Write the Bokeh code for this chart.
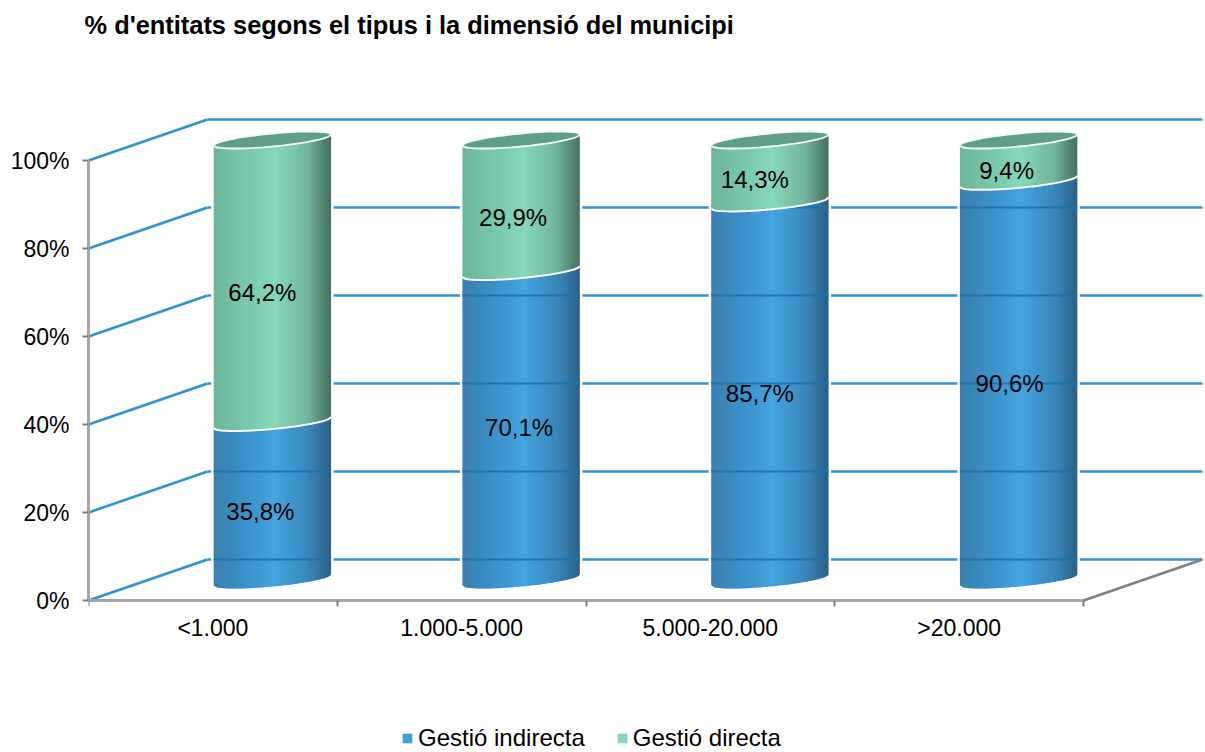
import math
from bokeh.plotting import figure
from bokeh.embed import file_html
from bokeh.resources import INLINE
from bokeh.models import Range1d, FixedTicker, Legend, LegendItem, Title, ColumnDataSource
from bokeh.core.properties import value

categories = ["<1.000", "1.000-5.000", "5.000-20.000", ">20.000"]
indirecta = [35.8, 70.1, 85.7, 90.6]
directa = [64.2, 29.9, 14.3, 9.4]
indirecta_labels = ["35,8%", "70,1%", "85,7%", "90,6%"]
directa_labels = ["64,2%", "29,9%", "14,3%", "9,4%"]
y_ticks = [0, 20, 40, 60, 80, 100]
TITLE = "% d'entitats segons el tipus i la dimensió del municipi"
FONT = "Liberation Sans"

# label nudges in px (style, relative to the segment's centre)
ind_dx, ind_dy = [-12, -2, -10, -9], [-10, -2, -2, -3]
dir_dx, dir_dy = [-10, -8, -15, -12], [-11, -12, -8, -10]

# scale: pixels per data unit, and the oblique "3D" depth in px
PXX, PXY = 248.75, 4.4
DEPTH_X, DEPTH_Y = 119, 41
WIDTH, HEIGHT = 1205, 752
LEFT, RIGHT, TOP = 88, 2, 50
ZERO_Y = 600
HALF_W, TILT, MINOR = 58.7, 5.5, 6.5
N = 59

BLUE = [(0, "#3B80AE"), (.25, "#3A90C6"), (.52, "#43A4DF"), (.8, "#3A87BA"), (.95, "#2F6B94"), (1, "#2C5F84")]
GREEN = [(0, "#6DB59B"), (.25, "#78C6AB"), (.52, "#86D8BB"), (.8, "#72B59E"), (.95, "#4F7F6D"), (1, "#466F60")]
CAP = "#5F9F8A"
GRID = "#2F93D3"
AXIS = "#A6A6A6"
TICK = "#808080"
NAN = float("nan")


def shade(stops, f):
    for (a, ca), (b, cb) in zip(stops, stops[1:]):
        if f <= b:
            k = (f - a) / (b - a)
            ch = [round(int(ca[i:i + 2], 16) * (1 - k) + int(cb[i:i + 2], 16) * k) for i in (1, 3, 5)]
            return "#%02X%02X%02X" % tuple(ch)
    return stops[-1][1]


dx = DEPTH_X / PXX
dy = DEPTH_Y / PXY
half = HALF_W / PXX
tilt = TILT / PXY
minor = MINOR / PXY


def edge(cx, v, u, sign=-1):
    """Point on the ellipse rim at the level v; u in [-1, 1]."""
    return cx + half * u, v + dy / 2 + tilt * u + sign * minor * math.sqrt(max(0, 1 - u * u))


p = figure(width=WIDTH, height=HEIGHT, output_backend="svg", toolbar_location=None,
           x_range=Range1d(0, (WIDTH - LEFT - RIGHT) / PXX),
           y_range=Range1d(-(HEIGHT - ZERO_Y) / PXY, (ZERO_Y - TOP) / PXY),
           min_border_left=LEFT, min_border_right=RIGHT, min_border_top=TOP, min_border_bottom=0)
p.outline_line_color = None
p.grid.visible = False
p.background_fill_color = "white"

p.title = Title(text=TITLE, text_font=FONT, text_font_size="25.4px", text_font_style="bold",
                text_color="#000000", align="left", vertical_align="top", offset=-4, standoff=20)

# axes
yax = p.yaxis[0]
yax.ticker = FixedTicker(ticks=y_ticks)
yax.bounds = (0, 100)
yax.major_label_overrides = {t: f"{t}%" for t in y_ticks}
yax.axis_line_color = AXIS
yax.axis_line_width = 3
yax.major_tick_line_color = TICK
yax.major_tick_line_width = 2
yax.major_tick_in = 0
yax.major_tick_out = 6
yax.minor_tick_out = 0
yax.minor_tick_in = 0
yax.major_label_text_font = FONT
yax.major_label_text_font_size = "23px"
yax.major_label_text_color = "#000000"
yax.major_label_standoff = 13

xax = p.xaxis[0]
n = len(categories)
xax.fixed_location = 0
xax.ticker = FixedTicker(ticks=[i + .5 for i in range(n)], minor_ticks=list(range(n + 1)))
xax.bounds = (0, n)
xax.major_label_overrides = {i + .5: c for i, c in enumerate(categories)}
xax.axis_line_color = AXIS
xax.axis_line_width = 3
xax.major_tick_in = 0
xax.major_tick_out = 0
xax.minor_tick_line_color = TICK
xax.minor_tick_line_width = 2
xax.minor_tick_in = 0
xax.minor_tick_out = 6
xax.major_label_text_font = FONT
xax.major_label_text_font_size = "23px"
xax.major_label_text_color = "#000000"
xax.major_label_standoff = 8

# walls
p.segment(x0=[0] * len(y_ticks), y0=y_ticks, x1=[dx] * len(y_ticks), y1=[t + dy for t in y_ticks],
          line_color=GRID, line_width=2.6)
p.segment(x0=[dx] * len(y_ticks), y0=[t + dy for t in y_ticks], x1=[n + dx] * len(y_ticks),
          y1=[t + dy for t in y_ticks], line_color=GRID, line_width=2.6)
p.segment(x0=[n], y0=[0], x1=[n + dx], y1=[dy], line_color=TICK, line_width=2.4)

centers = [i + .5 + dx / 2 for i in range(n)]
halo = 2.5 / PXX

# white gap round every cylinder
p.quad(left=[c - half - halo for c in centers], right=[c + half + halo for c in centers],
       bottom=[dy / 2 - 1 for _ in centers], top=[i + d + dy / 2 for i, d in zip(indirecta, directa)],
       fill_color="white", line_color=None)


def strips(cx, v0, v1, stops):
    xs, ys, cs = [], [], []
    for j in range(N):
        u0 = -1 + 2 * j / N
        u1 = min(1, -1 + 2 * (j + 1.6) / N)  # each strip runs under the next one
        x0, yb0 = edge(cx, v0, u0)
        x1, yb1 = edge(cx, v0, u1)
        _, yt0 = edge(cx, v1, u0)
        _, yt1 = edge(cx, v1, u1)
        xs.append([x0, x1, x1, x0])
        ys.append([yb0, yb1, yt1, yt0])
        cs.append(shade(stops, (j + .5) / N))
    return xs, ys, cs


def collect(bottoms, tops, stops):
    X, Y, C = [], [], []
    for cx, b, t in zip(centers, bottoms, tops):
        x, y, c = strips(cx, b, t, stops)
        X += x
        Y += y
        C += c
    return dict(xs=X, ys=Y, c=C)


ind_tops = indirecta
dir_tops = [i + d for i, d in zip(indirecta, directa)]

p.patches("xs", "ys", fill_color="c", line_color=None,
          source=ColumnDataSource(collect([0] * n, ind_tops, BLUE)))

# gridlines showing through the blue part (the green part, drawn next, hides them)
gx, gy = [], []
for cx, level in zip(centers, ind_tops):
    for t in y_ticks:
        if t + dy / 2 < level:
            gx.append([cx - half, cx + half])
            gy.append([t + dy, t + dy])
p.multi_line(xs=gx, ys=gy, line_color="#1A72AE", line_width=2.2, line_alpha=0.85)

p.patches("xs", "ys", fill_color="c", line_color=None,
          source=ColumnDataSource(collect(ind_tops, dir_tops, GREEN)))

# white rim between the segments, top caps
us = [-1 + 2 * j / 60 for j in range(61)]
p.multi_line(xs=[[edge(c, v, u)[0] for u in us] for c, v in zip(centers, ind_tops)],
             ys=[[edge(c, v, u)[1] for u in us] for c, v in zip(centers, ind_tops)],
             line_color="white", line_width=2)
cap_x, cap_y = [], []
for c, v in zip(centers, dir_tops):
    ring = [(j / 40) * 2 * math.pi for j in range(41)]
    cap_x.append([edge(c, v, math.cos(t))[0] for t in ring])
    cap_y.append([edge(c, v, math.cos(t), 1 if math.sin(t) >= 0 else -1)[1] for t in ring])
p.patches(cap_x, cap_y, fill_color=CAP, line_color="#F4F9F7", line_width=1.8)

# data labels
lx = [c + d / PXX for c, d in zip(centers, ind_dx)] + [c + d / PXX for c, d in zip(centers, dir_dx)]
ly = [v / 2 + dy / 2 + d / PXY for v, d in zip(indirecta, ind_dy)] + \
     [i + v / 2 + dy / 2 + d / PXY for i, v, d in zip(indirecta, directa, dir_dy)]
p.text(x=lx, y=ly, text=indirecta_labels + directa_labels, text_font=value(FONT), text_font_size="24px",
       text_color="#000000", text_align="center", text_baseline="middle")

# legend
r1 = p.quad(left=[NAN], right=[NAN], top=[NAN], bottom=[NAN], fill_color="#3F9FD9", line_color=None)
r2 = p.quad(left=[NAN], right=[NAN], top=[NAN], bottom=[NAN], fill_color="#84D7BA", line_color=None)
legend = Legend(items=[LegendItem(label="Gestió indirecta", renderers=[r1]),
                       LegendItem(label="Gestió directa", renderers=[r2])],
                orientation="horizontal", location=(313, 0), glyph_width=12, glyph_height=12,
                label_text_font=FONT, label_text_font_size="24px", label_text_color="#000000",
                border_line_color=None, background_fill_alpha=0, padding=0, margin=0, spacing=31,
                label_standoff=5)
p.add_layout(legend, "center")

open("out.html", "w").write(file_html(p, INLINE))
